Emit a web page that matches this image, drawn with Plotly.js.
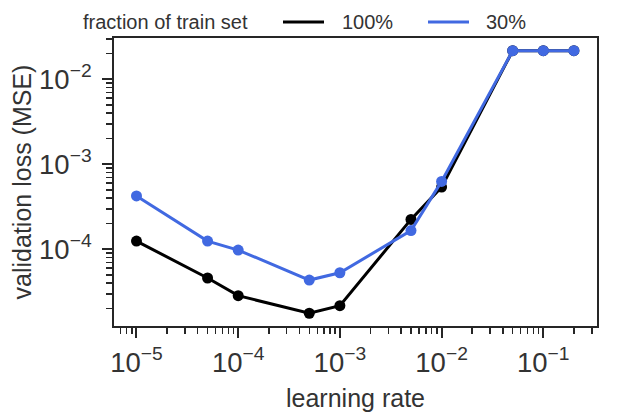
<!DOCTYPE html>
<html>
<head>
<meta charset="utf-8">
<script src="https://cdn.plot.ly/plotly-3.0.1.min.js"></script>
<style>
  html, body { margin: 0; padding: 0; background: #fff; }
  #chart { width: 621px; height: 412px; }
</style>
</head>
<body>
<div id="chart"></div>
<script>
// learning-rate sweep: validation loss for two training-set fractions
const learningRates = [1e-5, 5e-5, 1e-4, 5e-4, 1e-3, 5e-3, 1e-2, 5e-2, 1e-1, 2e-1];
const loss100 = [1.25e-4, 4.6e-5, 2.85e-5, 1.77e-5, 2.17e-5, 2.25e-4, 5.4e-4, 0.0217, 0.0217, 0.0217];
const loss30  = [4.25e-4, 1.25e-4, 9.8e-5, 4.35e-5, 5.3e-5, 1.66e-4, 6.3e-4, 0.0217, 0.0217, 0.0217];
const seriesNames = ['100%', '30%'];
const seriesColors = ['#000000', '#4169e1'];
const legendTitle = 'fraction of train set';

const W = 621, H = 412;
const M = { l: 114, r: 24, t: 38, b: 86 };
const pw = W - M.l - M.r, ph = H - M.t - M.b;
const px = x => (x - M.l) / pw;
const py = y => (H - M.b - y) / ph;

const ink = '#262626';
const textInk = '#333333';
const font = 'Liberation Sans, Arial, sans-serif';

const traces = [loss100, loss30].map((ys, i) => ({
  x: learningRates,
  y: ys,
  type: 'scatter',
  mode: 'lines+markers',
  name: seriesNames[i],
  line: { color: seriesColors[i], width: 3 },
  marker: { color: seriesColors[i], size: 11 },
  showlegend: false
}));

// legend row above the axes: title, then a line swatch and label per series
const legendY = 22;
const swatchX = [[283, 324], [428, 469]];
const labelX = [340, 484];
const shapes = seriesNames.map((n, i) => ({
  type: 'line', xref: 'paper', yref: 'paper',
  x0: px(swatchX[i][0]), x1: px(swatchX[i][1]),
  y0: py(legendY), y1: py(legendY),
  line: { color: seriesColors[i], width: 3 }
}));
const annotations = [
  { text: legendTitle, x: px(81), xanchor: 'left' },
  ...seriesNames.map((n, i) => ({ text: n, x: px(labelX[i]), xanchor: 'left' }))
].map(a => Object.assign({
  xref: 'paper', yref: 'paper', y: py(legendY), yanchor: 'middle',
  showarrow: false, font: { family: font, size: 20, color: textInk }
}, a));

const axisCommon = {
  type: 'log',
  dtick: 1,
  exponentformat: 'power',
  showgrid: false,
  zeroline: false,
  showline: true,
  mirror: true,
  linecolor: ink,
  linewidth: 2,
  ticks: 'outside',
  ticklen: 10,
  tickwidth: 2,
  tickcolor: ink,
  tickfont: { family: font, size: 22, color: textInk },
  minor: { ticks: 'outside', ticklen: 6, tickwidth: 1.5, tickcolor: ink, dtick: 'D1', showgrid: false }
};

const layout = {
  width: W, height: H,
  margin: M,
  paper_bgcolor: '#fff',
  plot_bgcolor: '#fff',
  showlegend: false,
  xaxis: Object.assign({}, axisCommon, {
    range: [-5.221, -0.472],
    ticklabelstandoff: 2,
    title: { text: 'learning rate', font: { family: font, size: 25, color: textInk }, standoff: 14 }
  }),
  yaxis: Object.assign({}, axisCommon, {
    range: [-4.902, -1.514],
    ticklabelstandoff: 6,
    title: { text: 'validation loss (MSE)', font: { family: font, size: 25, color: textInk }, standoff: 0 }
  }),
  shapes: shapes,
  annotations: annotations
};

Plotly.newPlot('chart', traces, layout, { displayModeBar: false, staticPlot: true });
</script>
</body>
</html>
